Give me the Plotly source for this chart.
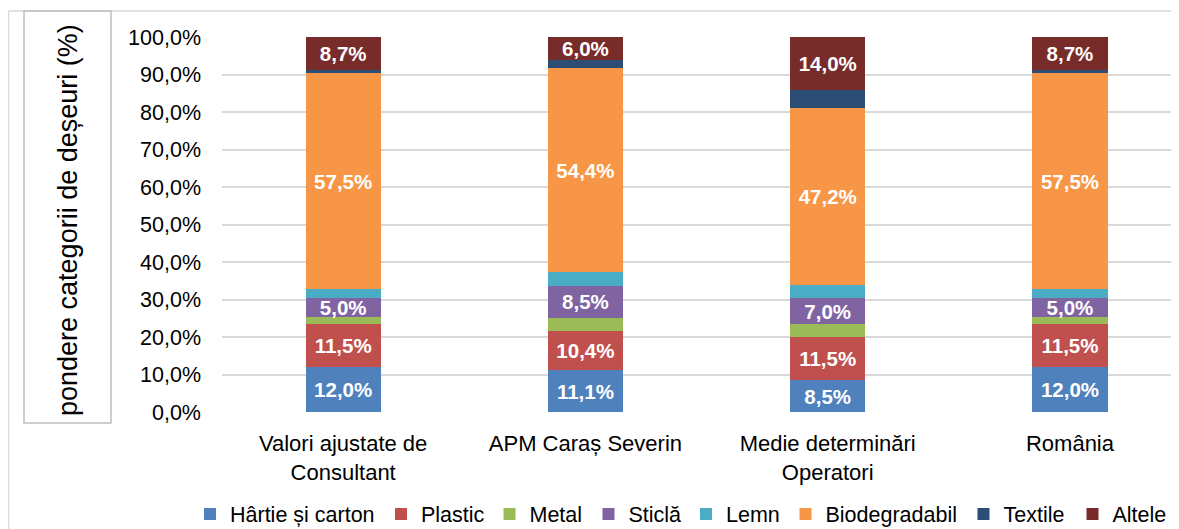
import plotly.graph_objects as go

# categories (x axis)
categories = [
    "Valori ajustate de<br>Consultant",
    "APM Caraș Severin",
    "Medie determinări<br>Operatori",
    "România",
]

# share of each waste category (%) per scenario
hartie = [12.0, 11.1, 8.5, 12.0]
plastic = [11.5, 10.4, 11.5, 11.5]
metal = [1.8, 3.6, 3.4, 1.8]
sticla = [5.0, 8.5, 7.0, 5.0]
lemn = [2.5, 3.7, 3.6, 2.5]
biodegradabil = [57.5, 54.4, 47.2, 57.5]
textile = [1.0, 2.3, 4.8, 1.0]
altele = [8.7, 6.0, 14.0, 8.7]

series = [
    ("Hârtie și carton", hartie, "#4F81BD", True),
    ("Plastic", plastic, "#C0504D", True),
    ("Metal", metal, "#9BBB59", False),
    ("Sticlă", sticla, "#8064A2", True),
    ("Lemn", lemn, "#4BACC6", False),
    ("Biodegradabil", biodegradabil, "#F79646", True),
    ("Textile", textile, "#2C4D75", False),
    ("Altele", altele, "#772C2A", True),
]

FONT = "Liberation Sans, Arial, sans-serif"
# page body adds an 8px margin, so the figure is 8px smaller and shifted
W, H = 1171, 521
PL, PR, PT, PB = 214, 1171, 29, 404   # plot area in figure pixels

# left edge (figure px) of each legend entry, one legend per series so the
# row is laid out like the original instead of wrapping
LEGEND_LEFT = [182, 373, 481.5, 580.5, 678, 777.5, 955.5, 1064.5]


def px_x(x):
    return (x - PL) / (PR - PL)


def px_y(y):
    return (PB - y) / (PB - PT)


fig = go.Figure()

for i, (name, vals, color, labelled) in enumerate(series):
    fig.add_trace(go.Bar(
        x=categories,
        y=vals,
        name=name,
        legend="legend" if i == 0 else f"legend{i + 1}",
        marker=dict(color=color, line=dict(width=0)),
        texttemplate="<b>%{y:.1f}%</b>" if labelled else "",
        textposition="inside",
        insidetextanchor="middle",
        textangle=0,
        constraintext="none",
        textfont=dict(color="white", size=20.5, family=FONT),
    ))

# outer chart border (left + top edges visible)
fig.add_shape(type="line", xref="paper", yref="paper",
              x0=px_x(0), x1=px_x(1171), y0=px_y(3), y1=px_y(3),
              line=dict(color="#D9D9D9", width=1.5))
fig.add_shape(type="line", xref="paper", yref="paper",
              x0=px_x(0.5), x1=px_x(0.5), y0=px_y(3), y1=px_y(521),
              line=dict(color="#D9D9D9", width=1.5))

# boxed y-axis title
fig.add_shape(type="rect", xref="paper", yref="paper",
              x0=px_x(16), x1=px_x(103), y0=px_y(415), y1=px_y(3),
              line=dict(color="#BFBFBF", width=1.5))
fig.add_annotation(
    x=px_x(60), y=px_y(212), xref="paper", yref="paper",
    xanchor="center", yanchor="middle",
    text="pondere categorii de deșeuri (%)",
    textangle=-90, showarrow=False,
    font=dict(family=FONT, size=27, color="#000000"),
)

legends = {}
for i, left in enumerate(LEGEND_LEFT):
    key = "legend" if i == 0 else f"legend{i + 1}"
    legends[key] = dict(
        orientation="h",
        x=px_x(left), xanchor="left",
        y=px_y(506), yanchor="middle",
        font=dict(family=FONT, size=21.5),
        bgcolor="rgba(0,0,0,0)",
        borderwidth=0,
        itemwidth=30,
    )

fig.update_layout(
    barmode="stack",
    bargap=0.69,
    width=W, height=H,
    separators=",.",
    paper_bgcolor="white",
    plot_bgcolor="white",
    font=dict(family=FONT, size=22, color="#000000"),
    margin=dict(l=PL, r=W - PR, t=PT, b=H - PB, autoexpand=False),
    showlegend=True,
    xaxis=dict(
        range=[-0.5, 3.45],
        showgrid=False,
        showline=False,
        zeroline=False,
        ticks="",
        tickfont=dict(family=FONT, size=22),
        ticklabelstandoff=16,
    ),
    yaxis=dict(
        range=[0, 100],
        dtick=10,
        tickformat=".1f",
        ticksuffix="%",
        showgrid=True,
        gridcolor="#D9D9D9",
        gridwidth=1.5,
        zeroline=False,
        showline=False,
        ticks="",
        tickfont=dict(family=FONT, size=21.5),
        ticklabelstandoff=20,
    ),
    **legends,
)

fig.write_html("out.html")
